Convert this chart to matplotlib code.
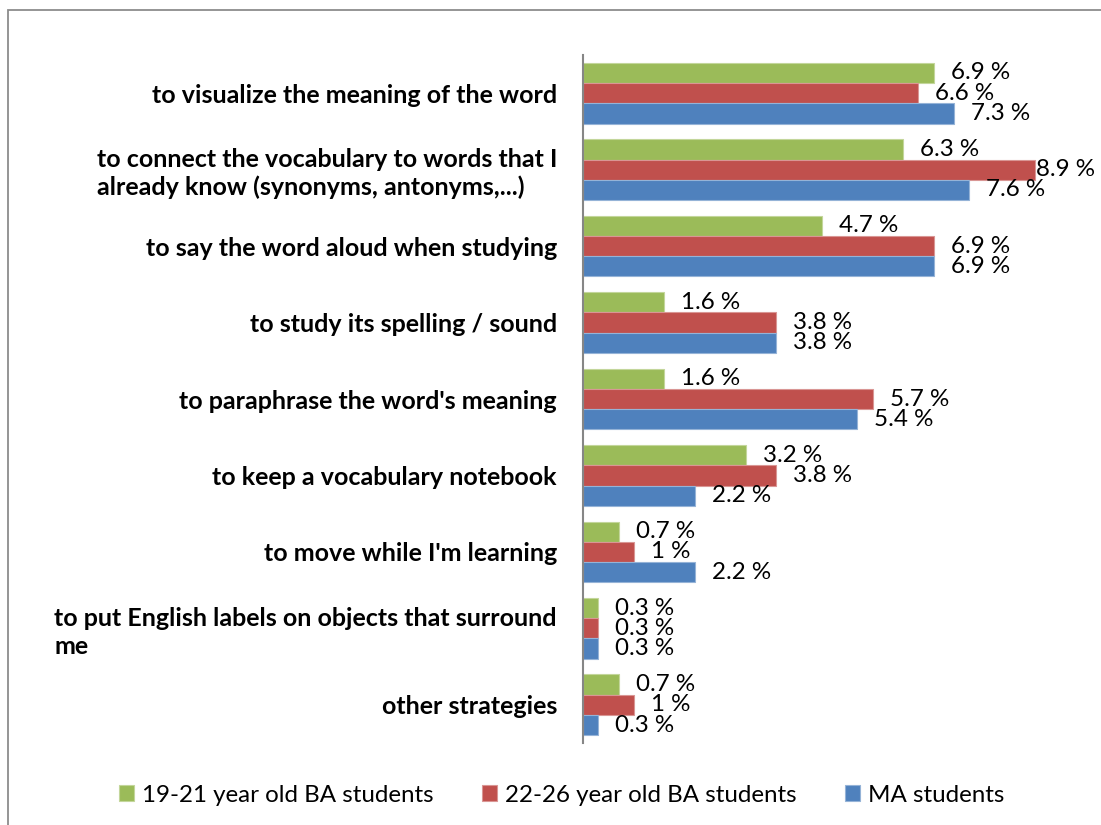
import matplotlib
matplotlib.use("Agg")
import matplotlib.pyplot as plt
from matplotlib.patches import Rectangle
import numpy as np

categories = [
    "to visualize the meaning of the word",
    "to connect the vocabulary to words that I\nalready know (synonyms, antonyms,...)",
    "to say the word aloud when studying",
    "to study its spelling / sound",
    "to paraphrase the word's meaning",
    "to keep a vocabulary notebook",
    "to move while I'm learning",
    "to put English labels on objects that surround\nme",
    "other strategies",
]
ba_19_21 = [6.9, 6.3, 4.7, 1.6, 1.6, 3.2, 0.7, 0.3, 0.7]
ba_22_26 = [6.6, 8.9, 6.9, 3.8, 5.7, 3.8, 1.0, 0.3, 1.0]
ma_students = [7.3, 7.6, 6.9, 3.8, 5.4, 2.2, 2.2, 0.3, 0.3]
series_names = ["19-21 year old BA students", "22-26 year old BA students", "MA students"]
series_colors = ["#9BBB59", "#C0504D", "#4F81BD"]
edge_colors = ["#C3D69B", "#D99694", "#95B3D7"]

plt.rcParams["font.family"] = ["Lato", "DejaVu Sans"]
W, H = 1101, 825
FS = 17.4
fig = plt.figure(figsize=(W / 100, H / 100), dpi=100)
fig.patch.set_facecolor("white")

# outer chart frame
fig.add_artist(Rectangle((8 / W, -0.2), 1.5, 1.2 - 10 / H, transform=fig.transFigure,
                         fill=False, edgecolor="#8C8C8C", linewidth=1.3))

ax = fig.add_axes([583 / W, 1 - 743 / H, (1091 - 583) / W, (743 - 55) / H])
y = np.arange(len(categories))
bh = 0.265
offsets = [-bh, 0.0, bh]
all_series = [ba_19_21, ba_22_26, ma_students]

labels = []
handles = []
for vals, off, col, ec, name in zip(all_series, offsets, series_colors, edge_colors, series_names):
    bars = ax.barh(y + off, vals, height=bh, color=col, edgecolor=ec, linewidth=0.8, label=name)
    handles.append(bars)
    for v, yy in zip(vals, y + off):
        t = ax.annotate(f"{v:g} %", xy=(v, yy), xytext=(17 * 0.72, 0), textcoords="offset points",
                        ha="left", va="center", fontsize=FS, color="black")
        labels.append(t)

ax.set_xlim(0, 10)
ax.set_ylim(len(categories) - 0.5, -0.5)
ax.set_yticks(y)
ax.set_yticklabels(categories, fontsize=18, fontweight="bold", ha="right", multialignment="left",
                   linespacing=1.22)
ax.tick_params(axis="y", length=0, pad=26 * 0.72)
ax.set_xticks([])
for s in ["top", "right", "bottom"]:
    ax.spines[s].set_visible(False)
ax.spines["left"].set_color("#868686")
ax.spines["left"].set_linewidth(1.5)
ax.patch.set_alpha(0)

leg = fig.legend(handles=handles, labels=series_names, loc="center", ncol=3,
                 bbox_to_anchor=(562 / W, 1 - 795 / H), frameon=False, fontsize=FS,
                 handlelength=0.62, handleheight=0.62, handletextpad=0.33, columnspacing=2.0)

# keep data labels inside the chart frame
fig.canvas.draw()
renderer = fig.canvas.get_renderer()
for t in labels:
    ext = t.get_window_extent(renderer)
    limit = W - 6
    if ext.x1 > limit:
        dx, dy = t.xyann
        t.xyann = (dx - (ext.x1 - limit) * 0.72, dy)

fig.savefig("out.png", dpi=100)
